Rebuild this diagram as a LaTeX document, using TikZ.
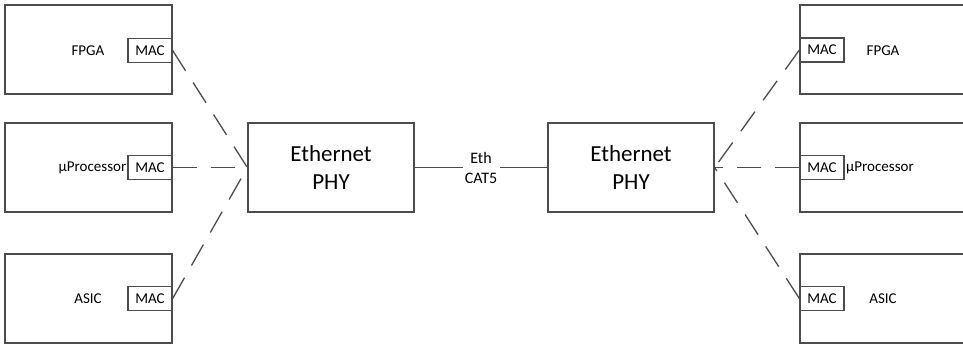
\documentclass[tikz,border=0pt]{standalone}
\usepackage{fontspec}
\setmainfont{Carlito}
\begin{document}
\begin{tikzpicture}[x=1pt,y=-1pt,
  box/.style={draw=black!70,line width=1.3pt,fill=white,inner sep=0pt},
  mac/.style={draw=black!70,line width=1.3pt,fill=white,inner sep=0pt,minimum width=44pt,minimum height=24pt,font=\fontsize{15}{17}\selectfont},
  lbl/.style={font=\fontsize{15}{17}\selectfont,inner sep=0pt},
  link/.style={draw=black!70,line width=1.3pt,dash pattern=on 24pt off 14pt},
  wire/.style={draw=black!70,line width=1.3pt}]
\useasboundingbox (0,0) rectangle (963,346);
% left devices
\node[box,minimum width=167pt,minimum height=89pt] (lb1) at (88.5,49.5) {};
\node[box,minimum width=167pt,minimum height=89pt] (lb2) at (88.5,167.5) {};
\node[box,minimum width=167pt,minimum height=89pt] (lb3) at (88.5,298.5) {};
\node[mac] (lm1) at (150,50.5) {MAC};
\node[mac] (lm2) at (150,167.5) {MAC};
\node[mac] (lm3) at (150,298.5) {MAC};
\node[lbl] (lt1) at (88,51) {FPGA};
\node[lbl,anchor=east] (lt2) at (126.5,167.5) {µProcessor};
\node[lbl] (lt3) at (88,298.5) {ASIC};
% PHYs
\node[box,minimum width=166pt,minimum height=89pt,align=center,font=\fontsize{23}{28}\selectfont] (p1) at (331,167.5) {Ethernet\\PHY};
\node[box,minimum width=166pt,minimum height=89pt,align=center,font=\fontsize{23}{28}\selectfont] (p2) at (631,167.5) {Ethernet\\PHY};
% right devices
\node[box,minimum width=170pt,minimum height=89pt] (rb1) at (885,49.5) {};
\node[box,minimum width=170pt,minimum height=89pt] (rb2) at (885,167.5) {};
\node[box,minimum width=170pt,minimum height=89pt] (rb3) at (885,298.5) {};
\node[mac] (rm1) at (822,50) {MAC};
\node[mac] (rm2) at (822,167.5) {MAC};
\node[mac] (rm3) at (822,298.5) {MAC};
\node[lbl] (rt1) at (883,51) {FPGA};
\node[lbl,anchor=west] (rt2) at (846,167.5) {µProcessor};
\node[lbl] (rt3) at (883,298.5) {ASIC};
% cable label
\node[font=\fontsize{16}{20}\selectfont,align=center,inner sep=0pt] (cab) at (481,168) {Eth\\CAT5};
\coordinate (ca) at (463,167.5);
\coordinate (cb) at (500,167.5);
\draw[wire] (p1.east) -- (ca);
\draw[wire] (cb) -- (p2.west);
% dashed links
\draw[link] (lm1.east) -- (p1.west);
\draw[link] (lm2.east) -- (p1.west);
\draw[link] (lm3.east) -- (p1.west);
\draw[link] (rm1.west) -- (p2.east);
\draw[link] (rm2.west) -- (p2.east);
\draw[link] (rm3.west) -- (p2.east);
\end{tikzpicture}
\end{document}
